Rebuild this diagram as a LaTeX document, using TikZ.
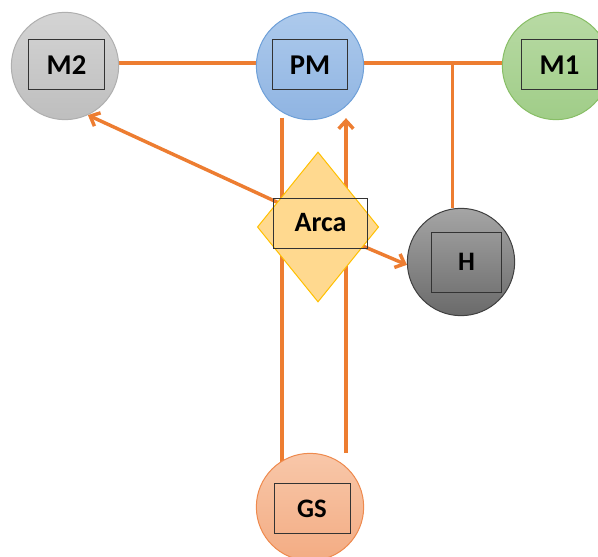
\documentclass[tikz,border=0pt]{standalone}
\usepackage{fontspec}
\setmainfont{Carlito}
\usepackage{xcolor}
\usetikzlibrary{arrows.meta,shapes.geometric,calc,backgrounds}

\definecolor{linkc}{HTML}{ED7D31}
\definecolor{m2top}{HTML}{D4D4D4}
\definecolor{m2bot}{HTML}{BEBEBE}
\definecolor{m2line}{HTML}{AFAFAF}
\definecolor{pmtop}{HTML}{ADCAEC}
\definecolor{pmbot}{HTML}{8FB4E2}
\definecolor{pmline}{HTML}{6FA0D8}
\definecolor{m1top}{HTML}{B8DAA4}
\definecolor{m1bot}{HTML}{A0CD88}
\definecolor{m1line}{HTML}{88BE66}
\definecolor{htop}{HTML}{A5A5A5}
\definecolor{hbot}{HTML}{6A6A6A}
\definecolor{hline}{HTML}{404040}
\definecolor{gstop}{HTML}{F8C7A9}
\definecolor{gsbot}{HTML}{F3AC83}
\definecolor{gsline}{HTML}{EE8A4E}
\definecolor{arcafill}{HTML}{FFD98F}
\definecolor{arcaline}{HTML}{FFC000}

\begin{document}
\begin{tikzpicture}[x=0.75pt, y=-0.75pt,
    unit/.style={circle, minimum size=80.5pt, inner sep=0pt, line width=0.75pt},
    tag/.style={draw=black!80, line width=0.75pt, inner sep=0pt,
        minimum width=56.5pt, minimum height=37.5pt,
        font=\bfseries\fontsize{21.5}{24}\selectfont},
    link/.style={draw=linkc, line width=2.6pt},
    arr/.style={link, -{Straight Barb[length=6pt, width=11pt]}}]
    \useasboundingbox (0,0) rectangle (598,556);
    \clip (0,0) rectangle (598,556);

    % Circles
    \node[unit, top color=m2top, bottom color=m2bot, draw=m2line] (m2) at (65,66) {};
    \node[unit, top color=pmtop, bottom color=pmbot, draw=pmline] (pm) at (310,66) {};
    \node[unit, top color=m1top, bottom color=m1bot, draw=m1line] (m1) at (556,66) {};
    \node[unit, top color=htop, bottom color=hbot, draw=hline] (h) at (461,262) {};
    \node[unit, top color=gstop, bottom color=gsbot, draw=gsline] (gs) at (310,507) {};

    % Diamond
    \node[diamond, fill=arcafill, draw=arcaline, line width=0.75pt, inner sep=0pt,
        minimum width=91pt, minimum height=112.5pt] (arca) at (318,227) {};

    % Labels
    \node[tag] (m2box) at (66.5,65) {M2};
    \node[tag] (pmbox) at (310,65) {PM};
    \node[tag] (m1box) at (559.5,65) {M1};
    \node[tag, minimum width=53pt, minimum height=45pt,
        font=\bfseries\fontsize{20}{24}\selectfont] (hbox) at (466.5,262) {H};
    \node[tag, minimum width=57pt, minimum height=38pt,
        font=\bfseries\fontsize{20}{24}\selectfont] (gsbox) at (312,508.5) {GS};
    \node[tag, minimum width=70pt, font=\bfseries\fontsize{21}{24}\selectfont] (arcabox) at (320.5,223) {Arca};

    % Connectors (behind the nodes)
    \begin{pgfonlayer}{background}
        \draw[link] (m2.3) -- (pm.177);
        \draw[link] (pm.3) -- (m1.177);
        \coordinate (tee) at ($(pm.3)!0.643!(m1.177)$);
        \draw[link] (tee) -- (tee |- h.north);

        \coordinate (pmL) at ($(pm.south)+(-28,-2.5)$);
        \coordinate (gsL) at ($(gs.north)+(-28,9)$);
        \coordinate (pmR) at ($(pm.south)+(36,-2)$);
        \coordinate (gsR) at ($(gs.north)+(36,0)$);
        \draw[link] (pmL) -- (gsL);
        \draw[arr] (gsR) -- (pmR);

        \draw[arr] ([yshift=4.5pt]arca.center) -- (m2.-65);
        \draw[arr] (arca.center) -- (h.183);
    \end{pgfonlayer}
\end{tikzpicture}
\end{document}
